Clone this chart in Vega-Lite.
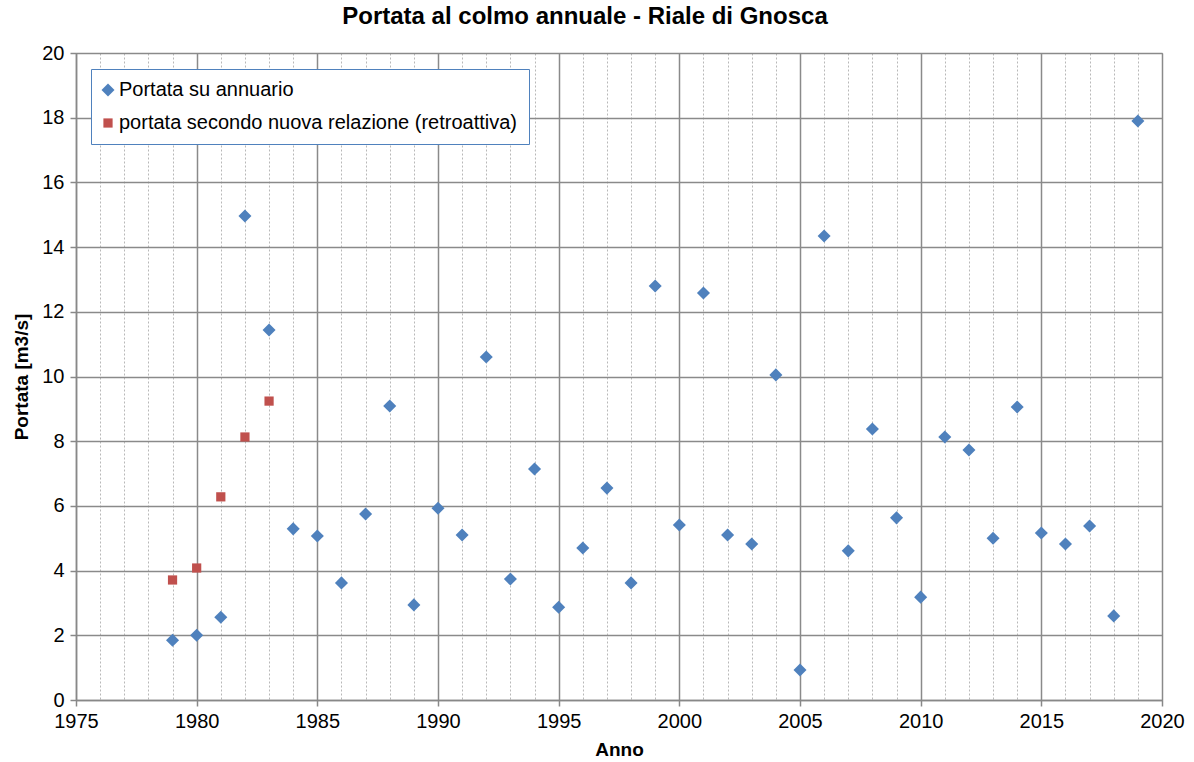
{
  "$schema": "https://vega.github.io/schema/vega-lite/v6.json",
  "width": 1086,
  "height": 647,
  "autosize": {"type": "none"},
  "padding": {"left": 76, "top": 53, "right": 32, "bottom": 62},
  "background": "white",
  "title": {
    "text": "Portata al colmo annuale - Riale di Gnosca",
    "font": "Liberation Sans",
    "fontSize": 24,
    "fontWeight": "bold",
    "color": "#000000",
    "anchor": "middle",
    "dx": -34,
    "offset": 14
  },
  "config": {
    "view": {"stroke": "#888888", "strokeWidth": 1},
    "font": "Liberation Sans"
  },
  "data": {
    "values": [
      {"anno": 1979, "portata": 1.85, "serie": "Portata su annuario"},
      {"anno": 1980, "portata": 2.0, "serie": "Portata su annuario"},
      {"anno": 1981, "portata": 2.56, "serie": "Portata su annuario"},
      {"anno": 1982, "portata": 14.96, "serie": "Portata su annuario"},
      {"anno": 1983, "portata": 11.44, "serie": "Portata su annuario"},
      {"anno": 1984, "portata": 5.29, "serie": "Portata su annuario"},
      {"anno": 1985, "portata": 5.07, "serie": "Portata su annuario"},
      {"anno": 1986, "portata": 3.62, "serie": "Portata su annuario"},
      {"anno": 1987, "portata": 5.75, "serie": "Portata su annuario"},
      {"anno": 1988, "portata": 9.09, "serie": "Portata su annuario"},
      {"anno": 1989, "portata": 2.94, "serie": "Portata su annuario"},
      {"anno": 1990, "portata": 5.93, "serie": "Portata su annuario"},
      {"anno": 1991, "portata": 5.10, "serie": "Portata su annuario"},
      {"anno": 1992, "portata": 10.6, "serie": "Portata su annuario"},
      {"anno": 1993, "portata": 3.74, "serie": "Portata su annuario"},
      {"anno": 1994, "portata": 7.14, "serie": "Portata su annuario"},
      {"anno": 1995, "portata": 2.87, "serie": "Portata su annuario"},
      {"anno": 1996, "portata": 4.70, "serie": "Portata su annuario"},
      {"anno": 1997, "portata": 6.55, "serie": "Portata su annuario"},
      {"anno": 1998, "portata": 3.62, "serie": "Portata su annuario"},
      {"anno": 1999, "portata": 12.8, "serie": "Portata su annuario"},
      {"anno": 2000, "portata": 5.41, "serie": "Portata su annuario"},
      {"anno": 2001, "portata": 12.58, "serie": "Portata su annuario"},
      {"anno": 2002, "portata": 5.10, "serie": "Portata su annuario"},
      {"anno": 2003, "portata": 4.82, "serie": "Portata su annuario"},
      {"anno": 2004, "portata": 10.05, "serie": "Portata su annuario"},
      {"anno": 2005, "portata": 0.93, "serie": "Portata su annuario"},
      {"anno": 2006, "portata": 14.34, "serie": "Portata su annuario"},
      {"anno": 2007, "portata": 4.61, "serie": "Portata su annuario"},
      {"anno": 2008, "portata": 8.38, "serie": "Portata su annuario"},
      {"anno": 2009, "portata": 5.63, "serie": "Portata su annuario"},
      {"anno": 2010, "portata": 3.18, "serie": "Portata su annuario"},
      {"anno": 2011, "portata": 8.13, "serie": "Portata su annuario"},
      {"anno": 2012, "portata": 7.73, "serie": "Portata su annuario"},
      {"anno": 2013, "portata": 5.0, "serie": "Portata su annuario"},
      {"anno": 2014, "portata": 9.06, "serie": "Portata su annuario"},
      {"anno": 2015, "portata": 5.16, "serie": "Portata su annuario"},
      {"anno": 2016, "portata": 4.82, "serie": "Portata su annuario"},
      {"anno": 2017, "portata": 5.38, "serie": "Portata su annuario"},
      {"anno": 2018, "portata": 2.6, "serie": "Portata su annuario"},
      {"anno": 2019, "portata": 17.9, "serie": "Portata su annuario"},
      {"anno": 1979, "portata": 3.71, "serie": "portata secondo nuova relazione (retroattiva)"},
      {"anno": 1980, "portata": 4.08, "serie": "portata secondo nuova relazione (retroattiva)"},
      {"anno": 1981, "portata": 6.28, "serie": "portata secondo nuova relazione (retroattiva)"},
      {"anno": 1982, "portata": 8.13, "serie": "portata secondo nuova relazione (retroattiva)"},
      {"anno": 1983, "portata": 9.24, "serie": "portata secondo nuova relazione (retroattiva)"}
    ]
  },
  "mark": {"type": "point", "filled": true, "opacity": 1},
  "encoding": {
    "x": {
      "field": "anno",
      "type": "quantitative",
      "scale": {"domain": [1975, 2020], "nice": false, "zero": false},
      "axis": {
        "title": "Anno",
        "titleFont": "Liberation Sans",
        "titleFontSize": 19,
        "titleFontWeight": "bold",
        "titleColor": "#000000",
        "titlePadding": 9,
        "values": [1975,1976,1977,1978,1979,1980,1981,1982,1983,1984,1985,1986,1987,1988,1989,1990,1991,1992,1993,1994,1995,1996,1997,1998,1999,2000,2001,2002,2003,2004,2005,2006,2007,2008,2009,2010,2011,2012,2013,2014,2015,2016,2017,2018,2019,2020],
        "labelExpr": "datum.value % 5 === 0 ? format(datum.value, 'd') : ''",
        "labelFont": "Liberation Sans",
        "labelFontSize": 20,
        "labelColor": "#000000",
        "labelPadding": 5,
        "labelFlush": false,
        "labelOverlap": false,
        "domainColor": "#888888",
        "domainWidth": 1.5,
        "tickColor": "#888888",
        "tickSize": 6,
        "tickWidth": 1.5,
        "tickOpacity": {"condition": {"test": "datum.value % 5 === 0", "value": 1}, "value": 0},
        "grid": true,
        "gridColor": {"condition": {"test": "datum.value % 5 === 0", "value": "#8a8a8a"}, "value": "#b8b8b8"},
        "gridDash": {"condition": {"test": "datum.value % 5 === 0", "value": []}, "value": [2, 2]},
        "gridWidth": {"condition": {"test": "datum.value % 5 === 0", "value": 1.5}, "value": 1}
      }
    },
    "y": {
      "field": "portata",
      "type": "quantitative",
      "scale": {"domain": [0, 20], "nice": false},
      "axis": {
        "title": "Portata [m3/s]",
        "titleFont": "Liberation Sans",
        "titleFontSize": 19,
        "titleFontWeight": "bold",
        "titleColor": "#000000",
        "titlePadding": 10,
        "values": [0, 2, 4, 6, 8, 10, 12, 14, 16, 18, 20],
        "labelFont": "Liberation Sans",
        "labelFontSize": 20,
        "labelColor": "#000000",
        "labelPadding": 6,
        "domainColor": "#888888",
        "domainWidth": 1.5,
        "tickColor": "#888888",
        "tickSize": 6,
        "tickWidth": 1.5,
        "grid": true,
        "gridColor": "#8a8a8a",
        "gridWidth": 1.3
      }
    },
    "color": {
      "field": "serie",
      "type": "nominal",
      "scale": {
        "domain": ["Portata su annuario", "portata secondo nuova relazione (retroattiva)"],
        "range": ["#4F81BD", "#C0504D"]
      },
      "legend": {
        "title": null,
        "orient": "none",
        "legendX": 15,
        "legendY": 16,
        "fillColor": "white",
        "strokeColor": "#4F81BD",
        "padding": 11,
        "labelFont": "Liberation Sans",
        "labelFontSize": 20,
        "labelColor": "#000000",
        "labelLimit": 600,
        "rowPadding": 13,
        "symbolSize": 130,
        "symbolOffset": -4,
        "labelOffset": 1
      }
    },
    "shape": {
      "field": "serie",
      "type": "nominal",
      "scale": {
        "domain": ["Portata su annuario", "portata secondo nuova relazione (retroattiva)"],
        "range": ["diamond", "square"]
      },
      "legend": null
    },
    "size": {
      "field": "serie",
      "type": "nominal",
      "scale": {
        "domain": ["Portata su annuario", "portata secondo nuova relazione (retroattiva)"],
        "range": [170, 85]
      },
      "legend": null
    }
  }
}
